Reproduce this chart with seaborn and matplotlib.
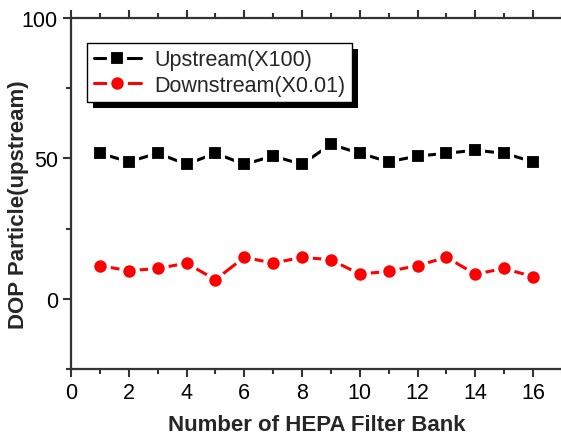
import matplotlib
matplotlib.use("Agg")
import matplotlib.pyplot as plt
import seaborn as sns
import pandas as pd
from matplotlib.ticker import MultipleLocator
from matplotlib.patches import Rectangle

banks = list(range(1, 17))
upstream = [51.8, 48.8, 51.8, 47.9, 51.8, 47.9, 50.8, 47.9, 55.0, 51.8, 48.8, 50.8, 51.8, 52.9, 51.8, 48.8]
downstream = [11.8, 10.0, 10.8, 12.7, 6.8, 14.8, 12.7, 14.8, 13.9, 8.8, 9.8, 11.8, 14.8, 8.8, 10.8, 7.9]
series_names = ["Upstream(X100)", "Downstream(X0.01)"]

df = pd.DataFrame({
    "bank": banks * 2,
    "value": upstream + downstream,
    "series": [series_names[0]] * len(banks) + [series_names[1]] * len(banks),
})

sns.set_style("ticks")
plt.rcParams["font.family"] = ["Liberation Sans", "DejaVu Sans"]

fig = plt.figure(figsize=(5.61, 4.39), dpi=100)
ax = fig.add_axes([0.1266, 0.157, 0.875, 0.80])

palette = {series_names[0]: "black", series_names[1]: "#ff0000"}
sns.lineplot(data=df, x="bank", y="value", hue="series", style="series",
             palette=palette, markers={series_names[0]: "s", series_names[1]: "o"},
             dashes=False, linewidth=2.2, markersize=11, markeredgecolor="white",
             markeredgewidth=3.0, ax=ax, legend=True)
for ln in ax.lines:
    if ln.get_marker() == "o":
        ln.set_markersize(12)

ax.set_xlim(0, 17)
ax.set_ylim(-25, 100)
ax.xaxis.set_major_locator(MultipleLocator(2))
ax.xaxis.set_minor_locator(MultipleLocator(1))
ax.yaxis.set_major_locator(MultipleLocator(50))
ax.yaxis.set_minor_locator(MultipleLocator(25))
ax.tick_params(which="both", direction="out", width=1.5, top=True, right=False, colors="#333333")
ax.tick_params(which="major", length=6, labelsize=15.5, labelcolor="black")
ax.tick_params(which="minor", length=3.5)
for s in ax.spines.values():
    s.set_linewidth(1.6)
    s.set_color("#333333")
    s.set_visible(True)
ax.spines["right"].set_visible(False)

ax.set_xlabel("Number of HEPA Filter Bank", fontsize=16, fontweight="bold", labelpad=8)
ax.set_ylabel("DOP Particle(upstream)", fontsize=16, fontweight="bold")
ax.yaxis.set_label_coords(-0.085, 0.47)

handles, labels = ax.get_legend_handles_labels()
leg = ax.legend(handles, labels, loc="upper left", bbox_to_anchor=(0.033, 0.929),
                borderaxespad=0, fontsize=15.5, fancybox=False, frameon=True,
                edgecolor="black", handlelength=2.2, handletextpad=0.6,
                labelspacing=0.2, borderpad=0.3, framealpha=1.0)
leg.get_frame().set_linewidth(1.0)

fig.canvas.draw()
bb = leg.get_frame().get_window_extent()
shadow = Rectangle((bb.x0 + 6, bb.y0 - 6), bb.width, bb.height, transform=None,
                   facecolor="black", edgecolor="none", zorder=4.5, clip_on=False)
ax.add_patch(shadow)

fig.savefig("out.png", dpi=100)
